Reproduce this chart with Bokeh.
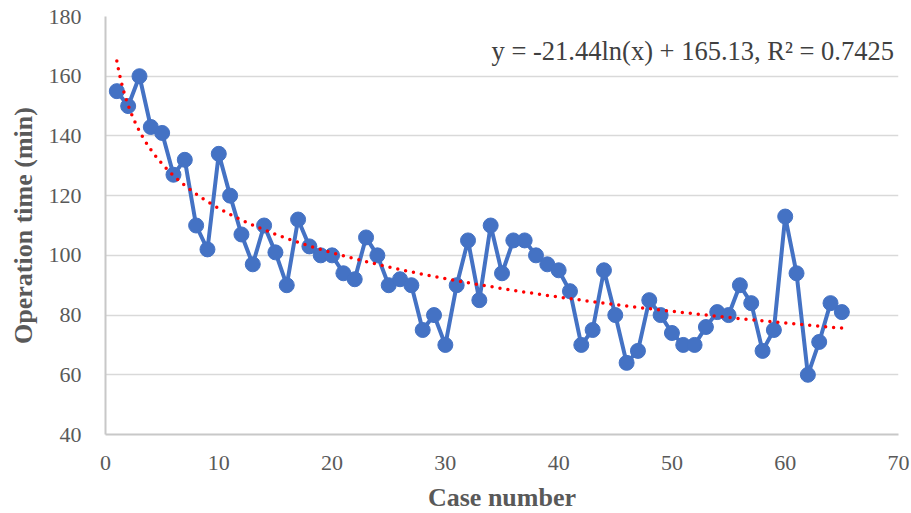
import numpy as np
from bokeh.plotting import figure
from bokeh.models import FixedTicker, Label, Range1d
from bokeh.embed import file_html
from bokeh.resources import INLINE

# ---- data ----
case_number = list(range(1, 66))
operation_time = [155, 150, 160, 143, 141, 127, 132, 110, 102, 134,
                  120, 107, 97, 110, 101, 90, 112, 103, 100, 100,
                  94, 92, 106, 100, 90, 92, 90, 75, 80, 70,
                  90, 105, 85, 110, 94, 105, 105, 100, 97, 95,
                  88, 70, 75, 95, 80, 64, 68, 85, 80, 74,
                  70, 70, 76, 81, 80, 90, 84, 68, 75, 113,
                  94, 60, 71, 84, 81]
x_ticks = [0, 10, 20, 30, 40, 50, 60, 70]
y_ticks = [40, 60, 80, 100, 120, 140, 160, 180]
trend_slope = -21.44
trend_intercept = 165.13
trend_r2 = 0.7425

FONT = "Liberation Serif"
GREY = "#595959"

p = figure(frame_width=793, frame_height=418, output_backend="svg",
           toolbar_location=None,
           x_range=Range1d(0, 70), y_range=Range1d(40, 180),
           min_border_left=105, min_border_right=15, min_border_top=16,
           min_border_bottom=60)
p.outline_line_color = None
p.background_fill_color = "white"

# grid
p.xgrid.grid_line_color = None
p.ygrid.grid_line_color = "#D9D9D9"
p.ygrid.grid_line_width = 1.5
p.ygrid.ticker = FixedTicker(ticks=y_ticks[1:])

# axes
for ax in (p.xaxis[0], p.yaxis[0]):
    ax.axis_line_color = "#C8C8C8"
    ax.axis_line_width = 2
    ax.major_tick_line_color = None
    ax.minor_tick_line_color = None
    ax.major_label_text_font = FONT
    ax.major_label_text_font_size = "22px"
    ax.major_label_text_color = GREY
    ax.axis_label_text_font = FONT
    ax.axis_label_text_font_size = "26px"
    ax.axis_label_text_font_style = "bold"
    ax.axis_label_text_color = GREY

p.xaxis.ticker = FixedTicker(ticks=x_ticks)
p.yaxis.ticker = FixedTicker(ticks=y_ticks)
p.xaxis.axis_label = "Case number"
p.yaxis.axis_label = "Operation time (min)"
p.xaxis.major_label_standoff = 15
p.xaxis.axis_label_standoff = 10
p.yaxis.major_label_standoff = 18
p.yaxis.axis_label_standoff = 8

# series
p.line(case_number, operation_time, line_color="#4472C4", line_width=4)
p.scatter(case_number, operation_time, size=15, fill_color="#4472C4",
          line_color="#4472C4")

# logarithmic trendline (from the chart's stated equation)
tx = np.linspace(case_number[0], case_number[-1], 400)
ty = trend_slope * np.log(tx) + trend_intercept
p.line(tx, ty, line_color="#FF0000", line_width=3.5, line_dash="0 8",
       line_cap="round")

eq = f"y = {trend_slope}ln(x) + {trend_intercept}, R² = {trend_r2}"
p.add_layout(Label(x=69.6, y=168.3, text=eq, text_align="right",
                   text_baseline="middle", text_font=FONT,
                   text_font_size="26.5px", text_color="#404040"))

open("out.html", "w").write(file_html(p, INLINE))
